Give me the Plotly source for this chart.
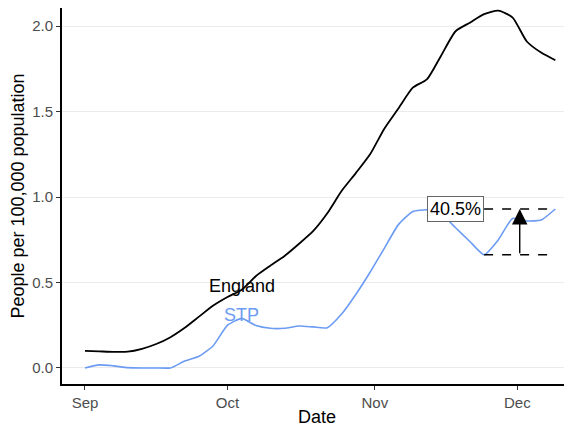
import pandas as pd
import plotly.graph_objects as go

# days since 1 Sep 2020, every 3 days
days = list(range(0, 100, 3))
dates = pd.to_datetime("2020-09-01") + pd.to_timedelta(days, unit="D")

england = [0.100, 0.097, 0.094, 0.095, 0.112, 0.140, 0.180, 0.235, 0.300, 0.365,
           0.415, 0.458, 0.538, 0.598, 0.655, 0.725, 0.800, 0.905, 1.035, 1.140,
           1.250, 1.400, 1.520, 1.640, 1.690, 1.830, 1.970, 2.020, 2.070, 2.090,
           2.050, 1.910, 1.845, 1.800]
stp = [0.000, 0.018, 0.012, 0.002, 0.000, 0.000, 0.000, 0.040, 0.068, 0.130,
       0.250, 0.290, 0.248, 0.232, 0.232, 0.245, 0.240, 0.235, 0.315, 0.430,
       0.560, 0.700, 0.840, 0.915, 0.925, 0.900, 0.820, 0.740, 0.662, 0.750,
       0.875, 0.860, 0.865, 0.930]

tick_dates = ["2020-09-01", "2020-10-01", "2020-11-01", "2020-12-01"]

BLUE = "#6B9BF2"
FONT = "Arial, Liberation Sans, sans-serif"

# rise from the STP low of the last fortnight or so to the latest value
recent = stp[-6:]
i_min = len(stp) - 6 + recent.index(min(recent))
low, last = stp[i_min], stp[-1]
rise = (last / low - 1) * 100
mid_date = dates[i_min] + (dates[-1] - dates[i_min]) / 2

fig = go.Figure()
fig.add_trace(go.Scatter(x=dates, y=england, mode="lines",
                         line=dict(color="black", width=1.8, shape="spline", smoothing=0.6)))
fig.add_trace(go.Scatter(x=dates, y=stp, mode="lines",
                         line=dict(color=BLUE, width=1.6, shape="spline", smoothing=0.5)))
for val in (low, last):
    fig.add_trace(go.Scatter(x=[dates[i_min], dates[-1]], y=[val, val], mode="lines",
                             line=dict(color="black", width=1.5, dash="dash")))

fig.add_annotation(x=mid_date, y=last, ax=mid_date, ay=low, xref="x", yref="y",
                   axref="x", ayref="y", text="", showarrow=True, arrowhead=2,
                   arrowsize=2.2, arrowwidth=1.4, arrowcolor="black")
fig.add_annotation(x=dates[i_min - 2], y=last, text=f"{rise:.1f}%", showarrow=False,
                   font=dict(size=18, color="black", family=FONT),
                   bgcolor="white", bordercolor="#666666", borderwidth=1, borderpad=2)
fig.add_annotation(x="2020-10-04", y=0.48, text="England", showarrow=False,
                   font=dict(size=18, color="black", family=FONT))
fig.add_annotation(x="2020-10-04", y=0.31, text="STP", showarrow=False,
                   font=dict(size=18, color=BLUE, family=FONT))

# page body adds an 8px offset, so the figure is 8px smaller than the window
fig.update_layout(
    width=564, height=419,
    margin=dict(l=54, r=0, t=0, b=43),
    plot_bgcolor="white", paper_bgcolor="white",
    showlegend=False,
    font=dict(family=FONT),
)
fig.update_xaxes(
    range=["2020-08-27 04:00", "2020-12-12 12:00"],
    tickvals=tick_dates, tickformat="%b",
    showgrid=False, zeroline=False,
    showline=True, linecolor="black", linewidth=1.8,
    ticks="outside", ticklen=4, tickcolor="#333333",
    tickfont=dict(size=15, color="#4D4D4D"),
    title=dict(text="Date", font=dict(size=18, color="black"), standoff=2),
)
fig.update_yaxes(
    range=[-0.094, 2.106],
    tickvals=[0, 0.5, 1, 1.5, 2], ticktext=["0.0", "0.5", "1.0", "1.5", "2.0"],
    showgrid=True, gridcolor="#EBEBEB", gridwidth=1.3, zeroline=False,
    showline=True, linecolor="black", linewidth=1.8,
    ticks="outside", ticklen=4, tickcolor="#333333",
    tickfont=dict(size=15, color="#4D4D4D"),
    title=dict(text="People per 100,000 population", font=dict(size=18, color="black"),
               standoff=4),
)

fig.write_html("out.html")
